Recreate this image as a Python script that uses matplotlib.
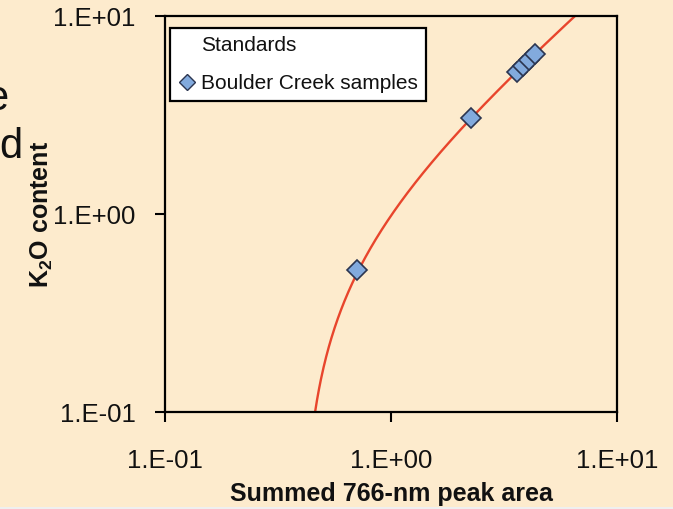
import matplotlib
matplotlib.use('Agg')
import matplotlib.pyplot as plt
from matplotlib import font_manager
from matplotlib.lines import Line2D
from matplotlib.patches import Rectangle
import numpy as np

# Boulder Creek samples: summed 766-nm peak area vs K2O content
sample_area = [0.71, 2.26, 3.60, 3.85, 4.10, 4.35]
sample_k2o = [0.52, 3.05, 5.20, 5.60, 6.00, 6.40]

# Linear calibration through the standards: K2O = slope * area + intercept
fit_slope = 1.634
fit_intercept = -0.654

tick_values = [0.1, 1.0, 10.0]
tick_labels = ['1.E-01', '1.E+00', '1.E+01']

plt.rcParams['font.family'] = ['Liberation Sans', 'DejaVu Sans']
plt.rcParams['mathtext.fontset'] = 'custom'
plt.rcParams['mathtext.rm'] = 'Liberation Sans'
plt.rcParams['mathtext.bf'] = 'Liberation Sans:bold'

bg = '#FDEBCD'
ink = '#111111'
marker_face = '#82AADD'
marker_edge = '#2B3550'

fig = plt.figure(figsize=(6.73, 5.09), dpi=100, facecolor=bg)
ax = fig.add_axes([165 / 673, 1 - 412 / 509, 452 / 673, 396 / 509])
ax.set_facecolor(bg)

ax.set_xscale('log')
ax.set_yscale('log')
ax.set_xlim(0.1, 10)
ax.set_ylim(0.1, 10)

# calibration curve
x_lo = (0.1 - fit_intercept) / fit_slope
x_hi = (10 - fit_intercept) / fit_slope
xs = np.logspace(np.log10(x_lo), np.log10(x_hi), 400)
ax.plot(xs, fit_slope * xs + fit_intercept, color='#E8452C', lw=1.7, zorder=2)

# sample markers
ax.plot(sample_area, sample_k2o, linestyle='none', marker='D', markersize=10,
        markerfacecolor=marker_face, markeredgecolor=marker_edge,
        markeredgewidth=1.2, zorder=3)

for s in ax.spines.values():
    s.set_color('black')
    s.set_linewidth(1.6)

ax.set_xticks(tick_values)
ax.set_xticklabels(tick_labels)
ax.set_yticks(tick_values)
ax.set_yticklabels(tick_labels)
ax.minorticks_off()
ax.tick_params(axis='both', which='major', direction='out', length=7,
               width=1.5, color='black', labelcolor=ink, labelsize=18.5)
ax.tick_params(axis='x', pad=20)
ax.tick_params(axis='y', pad=14)

ax.set_xlabel('Summed 766-nm peak area', fontsize=18, fontweight='bold',
              labelpad=6, color=ink)
ax.set_ylabel(r'K$_\mathbf{2}$O content', fontsize=18, fontweight='bold',
              color=ink)
ax.yaxis.set_label_coords(-0.243, 0.5)

handles = [
    Line2D([], [], linestyle='none', marker=None),
    Line2D([], [], linestyle='none', marker='D', markersize=8,
           markerfacecolor=marker_face, markeredgecolor=marker_edge,
           markeredgewidth=1.0),
]
leg = ax.legend(handles, ['Standards', 'Boulder Creek samples'],
                loc='upper left', bbox_to_anchor=(0.011, 0.970),
                borderaxespad=0, fancybox=False, framealpha=1,
                facecolor='white', edgecolor='black',
                prop={'family': 'Liberation Sans', 'size': 15},
                handlelength=0.8, handletextpad=0.3, borderpad=0.4,
                labelspacing=0.9)
leg.get_frame().set_linewidth(1.6)
for t in leg.get_texts():
    t.set_color(ink)

# fragments of neighbouring slide text at the left edge
fig.text(8 / 673, 1 - 110 / 509, 'e', ha='right', va='baseline',
         fontsize=30, color=ink)
fig.text(22 / 673, 1 - 158 / 509, 'd', ha='right', va='baseline',
         fontsize=30, color=ink)

fig.patches.append(Rectangle((0, 0), 1, 2 / 509, transform=fig.transFigure,
                             facecolor='#EFEFEF', edgecolor='none'))

fig.savefig('out.png', dpi=100, facecolor=bg)
